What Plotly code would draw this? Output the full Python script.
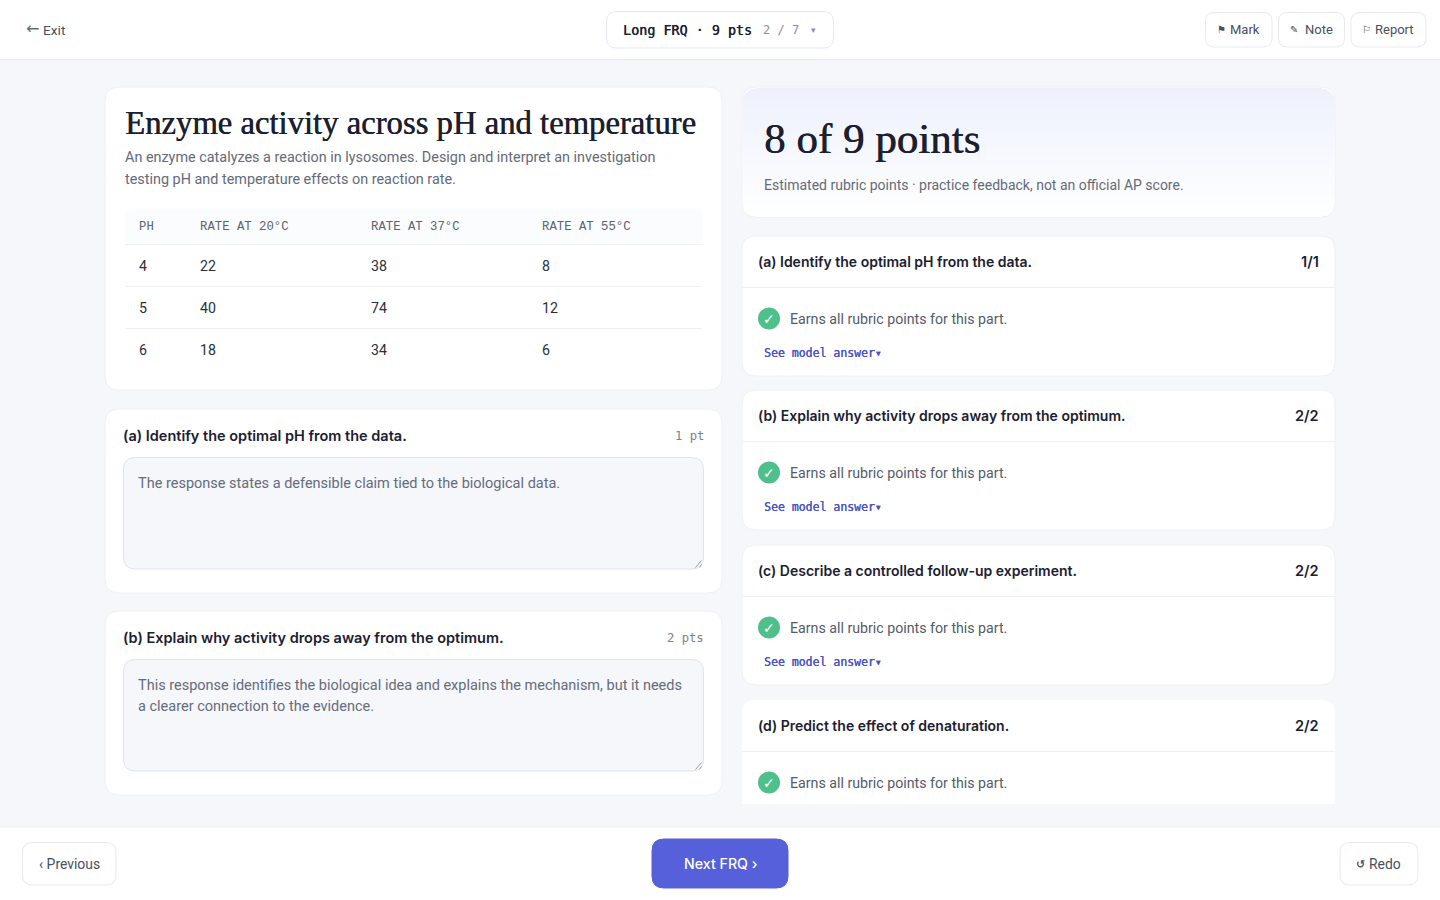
import plotly.graph_objects as go

# table values
ph_values = [4, 5, 6]
rate_20c = [22, 40, 18]
rate_37c = [38, 74, 34]
rate_55c = [8, 12, 6]
table_headers = ["PH", "RATE AT 20°C", "RATE AT 37°C", "RATE AT 55°C"]

# question parts
part_labels = [
    "(a) Identify the optimal pH from the data.",
    "(b) Explain why activity drops away from the optimum.",
    "(c) Describe a controlled follow-up experiment.",
    "(d) Predict the effect of denaturation.",
]
part_scores = ["1/1", "2/2", "2/2", "2/2"]
left_points = ["1 pt", "2 pts"]
left_answers = [
    ["The response states a defensible claim tied to the biological data."],
    ["This response identifies the biological idea and explains the mechanism, but it needs",
     "a clearer connection to the evidence."],
]

SANS = "Roboto"
HEAD = "Inter"
SERIF = "Liberation Serif"
MONO = "DejaVu Sans Mono"
INK = "#1b2030"
GREY = "#646a78"
BORDER = "#e6e9ef"
BG = "#f5f7fa"
INDIGO = "#4a52c8"

shapes = []
annotations = []


def round_rect(x0, y0, x1, y1, r, fill="#ffffff", line=BORDER, width=1):
    path = (
        f"M {x0+r} {y0} L {x1-r} {y0} Q {x1} {y0} {x1} {y0+r} "
        f"L {x1} {y1-r} Q {x1} {y1} {x1-r} {y1} L {x0+r} {y1} "
        f"Q {x0} {y1} {x0} {y1-r} L {x0} {y0+r} Q {x0} {y0} {x0+r} {y0} Z"
    )
    shapes.append(dict(type="path", path=path, fillcolor=fill,
                       line=dict(color=line, width=width), xref="x", yref="y"))


def rect(x0, y0, x1, y1, fill):
    shapes.append(dict(type="rect", x0=x0, y0=y0, x1=x1, y1=y1, fillcolor=fill,
                       line=dict(color=fill, width=0), xref="x", yref="y"))


def hline(x0, x1, y, color=BORDER, width=1):
    shapes.append(dict(type="line", x0=x0, x1=x1, y0=y, y1=y,
                       line=dict(color=color, width=width), xref="x", yref="y"))


def text(x, y, s, size=14, color=INK, family=SANS, anchor="left", weight=None, thick=None):
    font = dict(family=family, size=size, color=color)
    if weight:
        font["weight"] = weight
    if thick:
        # no medium weight in these fonts, a tiny shadow fattens the strokes
        font["shadow"] = f"{thick}px 0 0 {color}"
    annotations.append(dict(x=x, y=y, text=s, showarrow=False, xref="x", yref="y",
                            xanchor=anchor, yanchor="middle", align="left", font=font,
                            borderpad=0, borderwidth=0))


# page bars
rect(0, 0, 1440, 59, "#ffffff")
hline(0, 1440, 59.5)
rect(0, 827, 1440, 900, "#ffffff")
hline(0, 1440, 827, "#edeff4")

# top bar
text(26, 28.5, "←", 16, GREY, "DejaVu Sans")
text(43, 29.5, "Exit", 13.7, "#4a4f5e")
round_rect(606.5, 11.5, 833.5, 48, 10)
text(623, 30, "Long FRQ · 9 pts", 13.4, INK, MONO, thick=0.35)
text(763, 30, "2 / 7", 12, "#8a8f9c", MONO)
text(810.5, 30, "▾", 9, "#8a8f9c", "DejaVu Sans")
for x0, x1, icon, label in [
    (1205.5, 1272, "⚑", "Mark"),
    (1278.5, 1344.5, "✎", "Note"),
    (1351, 1426, "⚐", "Report"),
]:
    round_rect(x0, 12.5, x1, 47, 9)
    text(x0 + 11, 29.5, icon, 10, "#4a4f5e", "DejaVu Sans")
    text(x1 - 12, 29.5, label, 13, "#4a4f5e", anchor="right")

# intro card with the data table
round_rect(105, 87, 722, 390, 14, line="#eef0f5")
text(125, 122.5, "Enzyme activity across pH and temperature", 32.7, INK, SERIF, thick=0.5)
text(125, 157, "An enzyme catalyzes a reaction in lysosomes. Design and interpret an investigation", 14.4, GREY)
text(125, 179, "testing pH and temperature effects on reaction rate.", 14.4, GREY)
round_rect(125, 209, 702, 244, 6, fill="#fbfcfe", line="#fbfcfe")
col_x = [139, 200, 371, 542]
for x, header in zip(col_x, table_headers):
    text(x, 226.5, header, 12.3, "#5c6270", "Liberation Mono")
hline(125, 702, 244.5, "#eef0f4")
row_y = [265.5, 307.5, 349.5]
for i, y in enumerate(row_y):
    row = [ph_values[i], rate_20c[i], rate_37c[i], rate_55c[i]]
    for x, value in zip(col_x, row):
        text(x, y, str(value), 14.2, "#2a2f3c")
    if i < 2:
        hline(125, 702, y + 21, "#eef0f4")

# left question cards
for i, (y0, label) in enumerate(zip([409, 611], part_labels[:2])):
    round_rect(105, y0, 722, y0 + 184, 14, line="#eef0f5")
    text(122.5, y0 + 26, label, 14.5, INK, HEAD, weight=600)
    text(704, y0 + 26.5, left_points[i], 12.2, "#7c818e", MONO, anchor="right")
    round_rect(123.5, y0 + 48.5, 703.5, y0 + 160, 12, fill="#f5f7fb", line="#dfe3ea")
    for k, line in enumerate(left_answers[i]):
        text(138, y0 + 74 + k * 21, line, 14.5, "#666c7a")
    for d in [3, 7]:
        shapes.append(dict(type="line", x0=703 - d - 0.5, y0=y0 + 158.5, x1=701.5, y1=y0 + 158.5 - d,
                           line=dict(color="#7c818e", width=0.8), xref="x", yref="y"))

# score card, vertical fade done with thin bands
round_rect(742, 87, 1335, 217, 14, line="#eef0f5")
top_rgb = (238, 241, 253)
for k in range(129):
    y = 88 + k
    t = k / 128
    rgb = tuple(round(c + (255 - c) * t) for c in top_rgb)
    inset = 0
    if k < 13:
        inset = 13 - (169 - (13 - k) ** 2) ** 0.5
    if k > 115:
        inset = 13 - (169 - (k - 115) ** 2) ** 0.5
    rect(742.5 + inset, y, 1334.5 - inset, y + 1, "rgb(%d,%d,%d)" % rgb)
text(764, 138.5, "8 of 9 points", 43, INK, SERIF, thick=0.6)
text(764, 184.5, "Estimated rubric points · practice feedback, not an official AP score.", 14, GREY)

# right rubric cards
card_tops = [236, 390, 545, 700]
for i, y0 in enumerate(card_tops):
    if i < 3:
        round_rect(742, y0, 1335, y0 + 140, 14, line="#eef0f5")
    else:
        path = f"M 742 804 L 742 {y0+14} Q 742 {y0} 756 {y0} L 1321 {y0} Q 1335 {y0} 1335 {y0+14} L 1335 804 Z"
        shapes.append(dict(type="path", path=path, fillcolor="#ffffff",
                           line=dict(color="#ffffff", width=0), xref="x", yref="y"))
    text(757.5, y0 + 25, part_labels[i], 14, INK, HEAD, weight=600)
    text(1319, y0 + 25, part_scores[i], 14.5, INK, HEAD, anchor="right", weight=600)
    hline(742, 1335, y0 + 51.5, "#eef0f4")
    shapes.append(dict(type="circle", x0=758, x1=780, y0=y0 + 71.5, y1=y0 + 93.5,
                       fillcolor="#4fbf8b", line=dict(width=0), xref="x", yref="y"))
    text(769, y0 + 82.5, "✓", 14, "#ffffff", "DejaVu Sans", anchor="center", weight=700)
    text(790, y0 + 83, "Earns all rubric points for this part.", 14.2, "#555b69")
    if i < 3:
        text(764, y0 + 116.5, "See model answer▾", 11.5, INDIGO, MONO, thick=0.3)

# footer buttons
round_rect(22.5, 842.5, 116, 885, 10)
text(69, 864, "‹ Previous", 13.9, "#4a4f5e", anchor="center")
round_rect(652, 839, 788, 888, 12, fill="#5660db", line="#5660db")
text(720, 863.5, "Next FRQ ›", 14.2, "#ffffff", HEAD, anchor="center", weight=500)
round_rect(1340, 842.5, 1418, 885, 10)
text(1356, 864, "↺", 11, "#4a4f5e", "DejaVu Sans", weight=700)
text(1369, 864, "Redo", 13.9, "#4a4f5e")

fig = go.Figure()
fig.update_layout(
    width=1440, height=900,
    margin=dict(l=0, r=0, t=0, b=0),
    paper_bgcolor=BG, plot_bgcolor=BG,
    xaxis=dict(range=[0, 1440], visible=False, fixedrange=True),
    yaxis=dict(range=[900, 0], visible=False, fixedrange=True),
    shapes=shapes, annotations=annotations, showlegend=False,
)
fig.write_html("out.html", config=dict(displayModeBar=False),
               post_script="document.body.style.margin='0';")
